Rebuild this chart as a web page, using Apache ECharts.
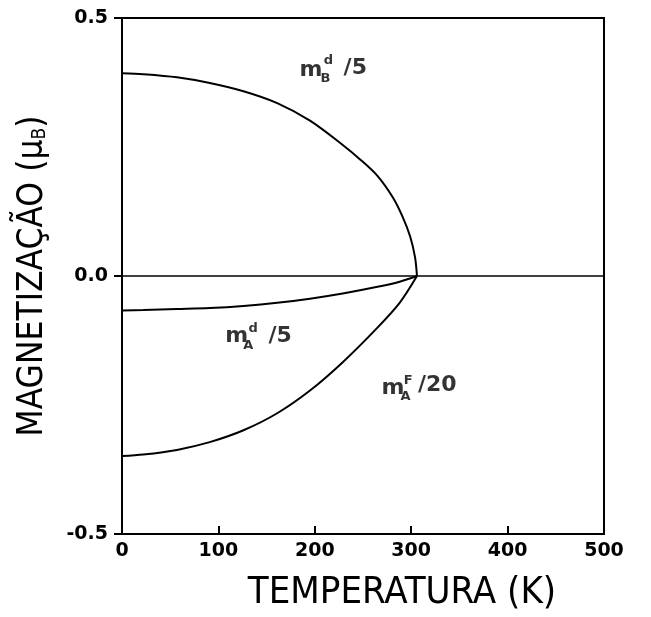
<!DOCTYPE html>
<html><head><meta charset="utf-8">
<script src="https://cdn.jsdelivr.net/npm/echarts@6/dist/echarts.min.js"></script>
<style>html,body{margin:0;padding:0;background:#fff}#c{width:651px;height:617px}</style>
</head><body><div id="c"></div>
<script>
// ---- data ----
const xTicks = [0, 100, 200, 300, 400, 500];
const yTicks = [-0.5, 0, 0.5];
const tempB = [0, 22, 57, 91, 126, 161, 195, 229, 247, 265, 281, 291, 299, 304, 306];
const mBd = [0.393, 0.391, 0.385, 0.374, 0.358, 0.335, 0.301, 0.254, 0.226, 0.194, 0.152, 0.115, 0.076, 0.036, 0];
const tempA = [0, 22, 57, 91, 126, 161, 195, 229, 265, 288, 306];
const mAd = [-0.067, -0.066, -0.064, -0.062, -0.058, -0.052, -0.044, -0.034, -0.021, -0.011, 0];
const mAF = [-0.349, -0.346, -0.337, -0.322, -0.299, -0.266, -0.222, -0.167, -0.100, -0.052, 0];
const annText = ['m', 'd', 'B', '/5', 'm', 'd', 'A', '/5', 'm', 'F', 'A', '/20'];
const annT = [196, 214, 211, 242, 119, 136, 131, 164, 281, 297, 294, 327];
const annV = [0.399, 0.418, 0.383, 0.403, -0.117, -0.102, -0.135, -0.116, -0.218, -0.203, -0.234, -0.211];
const annSmall = [0, 1, 1, 0, 0, 1, 1, 0, 0, 1, 1, 0];

const zip = (xs, ys) => xs.map((x, i) => [x, ys[i]]);
const tickFont = 'DejaVu Sans';
const titleFont = "'Liberation Sans Narrow', 'DejaVu Sans Condensed', sans-serif";

const lineSeries = (name, xs, ys) => ({
  name, type: 'line', data: zip(xs, ys), showSymbol: false, smooth: 0.3,
  lineStyle: { color: '#000', width: 2 }, silent: true, z: 3
});

const annData = annText.map((t, i) => ({
  value: [annT[i], annV[i]],
  label: {
    show: true, position: 'inside', formatter: t, color: '#000',
    fontFamily: tickFont, fontWeight: 'bold', fontSize: annSmall[i] ? 13 : 22
  }
}));

const chart = echarts.init(document.getElementById('c'), null, { renderer: 'canvas' });
chart.setOption({
  animation: false,
  backgroundColor: '#fff',
  grid: { left: 122, right: 47, top: 18, bottom: 83, show: true, borderColor: '#000', borderWidth: 2, backgroundColor: 'transparent' },
  xAxis: {
    type: 'value', min: xTicks[0], max: xTicks[xTicks.length - 1], interval: xTicks[1] - xTicks[0],
    axisLine: { show: true, onZero: false, lineStyle: { color: '#000', width: 2 } },
    axisTick: { show: true, inside: true, length: 8, lineStyle: { color: '#000', width: 2 } },
    axisLabel: { color: '#000', fontFamily: tickFont, fontWeight: 'bold', fontSize: 19, margin: 8 },
    splitLine: { show: false },
    name: 'TEMPERATURA (K)', nameLocation: 'middle', nameGap: 40,
    nameTextStyle: { color: '#000', fontFamily: titleFont, fontSize: 38, padding: [0, 0, 0, 78] }
  },
  yAxis: {
    type: 'value', min: yTicks[0], max: yTicks[yTicks.length - 1], interval: yTicks[1] - yTicks[0],
    axisLine: { show: true, onZero: false, lineStyle: { color: '#000', width: 2 } },
    axisTick: { show: true, inside: false, length: 8, lineStyle: { color: '#000', width: 2 } },
    axisLabel: { color: '#000', fontFamily: tickFont, fontWeight: 'bold', fontSize: 19, margin: 14,
      formatter: v => v.toFixed(1) },
    splitLine: { show: false },
    name: 'MAGNETIZAÇÃO (μ{s|B})', nameLocation: 'middle', nameGap: 72, nameRotate: 90,
    nameTextStyle: { color: '#000', fontFamily: titleFont, fontSize: 35,
      rich: { s: { fontFamily: titleFont, fontSize: 19, color: '#000', padding: [16, 0, 0, 0] } } }
  },
  series: [
    Object.assign(lineSeries('mBd', tempB, mBd), {
      markLine: { silent: true, symbol: 'none', label: { show: false },
        lineStyle: { color: '#000', width: 1.5, type: 'solid' }, data: [{ yAxis: 0 }] }
    }),
    lineSeries('mAd', tempA, mAd),
    lineSeries('mAF', tempA, mAF),
    { name: 'labels', type: 'scatter', symbolSize: 0, data: annData, silent: true, z: 5,
      label: { show: true, color: '#000', textBorderWidth: 0 } }
  ]
});
</script></body></html>
